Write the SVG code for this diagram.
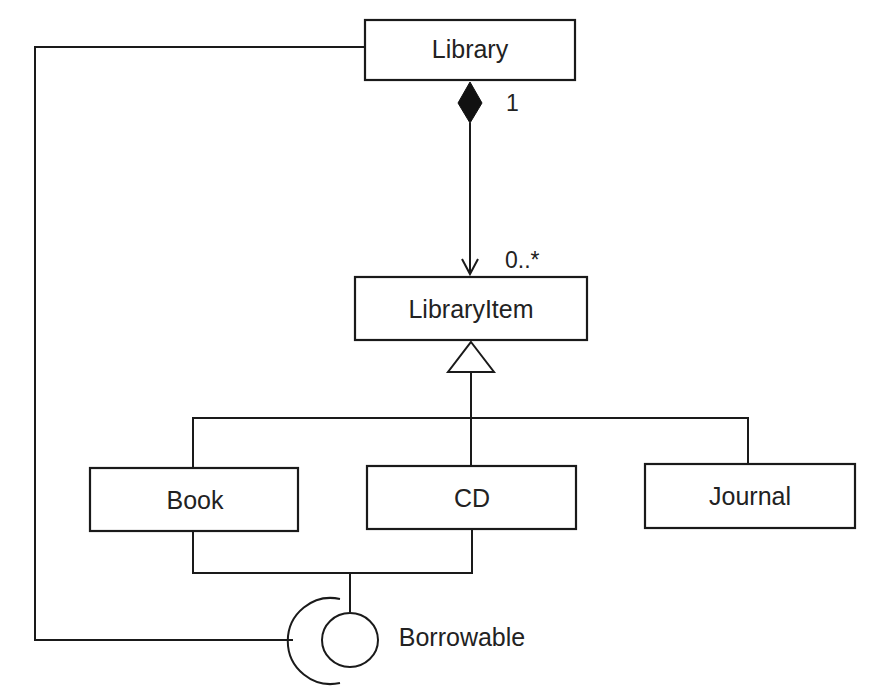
<svg xmlns="http://www.w3.org/2000/svg" width="882" height="687" viewBox="0 0 882 687">
<style>
.box{fill:#fff;stroke:#1a1a1a;stroke-width:2.2}
.ln{fill:none;stroke:#1a1a1a;stroke-width:2}
.t{font-family:"Liberation Sans",Arial,sans-serif;font-size:25px;fill:#222;text-anchor:middle}
.m{font-family:"Liberation Sans",Arial,sans-serif;font-size:23px;fill:#222}
</style>
<rect width="882" height="687" fill="#fff"/>
<g id="connectors">
<polyline class="ln" points="365,47 35,47 35,640 293,640"/>
<polygon points="470,82 482,103 470,123 458,103" fill="#111" stroke="#111" stroke-width="1"/>
<line class="ln" x1="470" y1="123" x2="470" y2="274"/>
<polyline class="ln" points="462,259 470,274 478,259"/>
<polygon points="471,342 494,372 448,372" fill="#fff" stroke="#1a1a1a" stroke-width="2"/>
<line class="ln" x1="471" y1="372" x2="471" y2="466"/>
<polyline class="ln" points="193,467 193,418 748,418 748,464"/>
<polyline class="ln" points="193,532 193,573 472,573 472,529"/>
<line class="ln" x1="350" y1="573" x2="350" y2="612"/>
<path class="ln" d="M340,599 A43,43 0 1,0 340,683"/>
</g>
<g id="library"><rect class="box" x="365" y="20" width="210" height="60"/><text class="t" x="470" y="58">Library</text></g>
<text class="m" x="506" y="111">1</text>
<text class="m" x="505" y="268">0..*</text>
<g id="libraryitem"><rect class="box" x="355" y="277" width="232" height="63"/><text class="t" x="471" y="318">LibraryItem</text></g>
<g id="book"><rect class="box" x="90" y="468" width="208" height="63"/><text class="t" x="195" y="509">Book</text></g>
<g id="cd"><rect class="box" x="367" y="466" width="209" height="63"/><text class="t" x="472" y="507">CD</text></g>
<g id="journal"><rect class="box" x="645" y="464" width="210" height="64"/><text class="t" x="750" y="505">Journal</text></g>
<g id="borrowable"><ellipse cx="350" cy="640" rx="28" ry="27" fill="#fff" stroke="#1a1a1a" stroke-width="2"/><text class="t" x="462" y="646">Borrowable</text></g>
</svg>
